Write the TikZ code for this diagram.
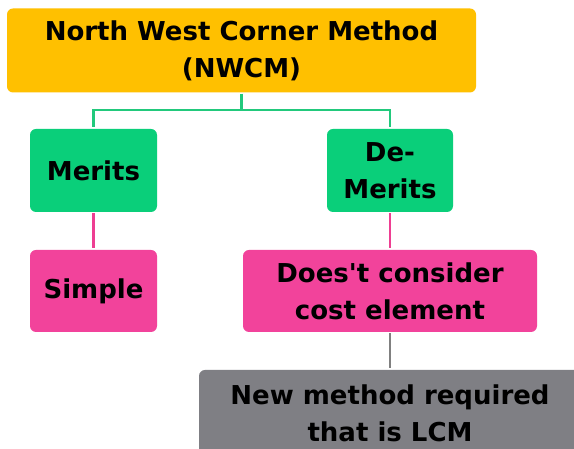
\documentclass[tikz,border=0pt]{standalone}
\usepackage{fontspec}
\setmainfont{DejaVu Sans}
\definecolor{boxyellow}{HTML}{FFC000}
\definecolor{boxgreen}{HTML}{0ACF7A}
\definecolor{boxpink}{HTML}{F2439B}
\definecolor{boxgray}{HTML}{7F7F84}
\definecolor{linegreen}{HTML}{22C97C}
\definecolor{linepink}{HTML}{EE3E92}
\definecolor{linegray}{HTML}{808080}
\tikzset{
  card/.style={rectangle, rounded corners=6pt, inner sep=0pt, align=center,
    font=\fontsize{26}{37}\selectfont\bfseries, text=black},
  link/.style={line width=2.4pt, shorten >=2pt, shorten <=1pt}
}
\begin{document}
\begin{tikzpicture}[x=1pt, y=1pt]
\clip (0,0) rectangle (574,449);
\useasboundingbox (0,0) rectangle (574,449);
\fill[white] (0,0) rectangle (574,449);

\node[card, fill=boxyellow, minimum width=469pt, minimum height=84pt] (nwcm) at (241.5,398.5) {North West Corner Method\\(NWCM)};
\node[card, fill=boxgreen, minimum width=127pt, minimum height=83pt] (merits) at (93.5,278.5) {Merits};
\node[card, fill=boxgreen, minimum width=126pt, minimum height=83pt] (demerits) at (390,278.5) {De-\\Merits};
\node[card, fill=boxpink, minimum width=127pt, minimum height=82pt] (simple) at (93.5,158) {Simple};
\node[card, fill=boxpink, minimum width=294pt, minimum height=82pt] (cost) at (390,158) {Does\textquotesingle t consider\\cost element};
\node[card, fill=boxgray, minimum width=382pt, minimum height=86pt] (lcm) at (390,36) {New method required\\that is LCM};

\coordinate (split) at (241.5,339);
\draw[linegreen, line width=2.4pt, shorten <=1pt] (nwcm.south) -- (split);
\draw[linegreen, line width=2.4pt, shorten >=2pt] (split) -| (merits.north);
\draw[linegreen, line width=2.4pt, shorten >=2pt] (split) -| (demerits.north);
\draw[link, linepink] (merits.south) -- (simple.north);
\draw[link, linepink] (demerits.south) -- (cost.north);
\draw[link, linegray] (cost.south) -- (lcm.north);
\end{tikzpicture}
\end{document}
